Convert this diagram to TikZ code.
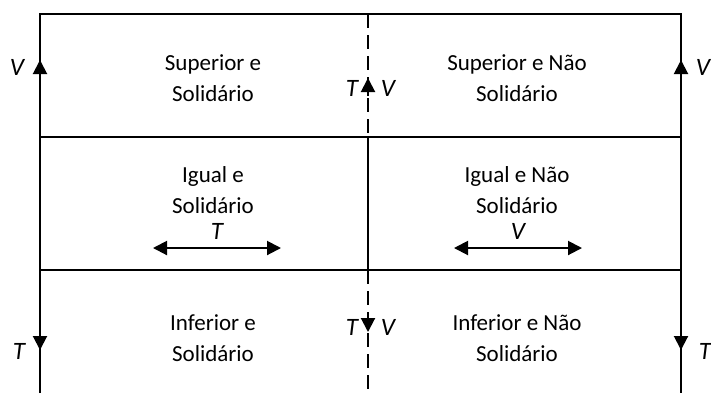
\documentclass[tikz,border=0pt]{standalone}
\usepackage{fontspec}
\setmainfont{Carlito}
\usetikzlibrary{arrows.meta,positioning}

\begin{document}
\begin{tikzpicture}[x=0.5pt, y=-0.5pt, >={Triangle[width=7pt,length=7pt]},
		frame line/.style={line width=1pt},
		mid line/.style={line width=1pt, dash pattern=on 7pt off 3.5pt},
		cell node/.style={align=center, font=\fontsize{11.5}{15.5}\selectfont},
		sign node/.style={font=\fontsize{12.5}{14}\selectfont\itshape, inner sep=0pt}]

	\useasboundingbox (0,0) rectangle (711,393);

	% corners and crossings
	\coordinate (tl) at (40,14);
	\coordinate (tm) at (368,14);
	\coordinate (tr) at (681,14);
	\coordinate (al) at (40,137);
	\coordinate (am) at (368,137);
	\coordinate (ar) at (681,137);
	\coordinate (bl) at (40,270);
	\coordinate (bm) at (368,270);
	\coordinate (br) at (681,270);
	\coordinate (el) at (40,393);
	\coordinate (em) at (368,393);
	\coordinate (er) at (681,393);

	\draw[frame line] (el) -- (tl) -- (tr) -- (er);
	\draw[frame line] (al) -- (ar);
	\draw[frame line] (bl) -- (br);
	\draw[frame line] (am) -- (bm);
	\draw[mid line] (tm) -- (am);
	\draw[mid line] (bm) -- (em);

	% texts
	\node[cell node] (1) at (213,78) {Superior e\\Solidário};
	\node[cell node] (2) at (517,78) {Superior e Não\\Solidário};
	\node[cell node] (3) at (213,190) {Igual e\\Solidário};
	\node[cell node] (4) at (517,190) {Igual e Não\\Solidário};
	\node[cell node] (5) at (213,338) {Inferior e\\Solidário};
	\node[cell node] (6) at (517,338) {Inferior e Não\\Solidário};

	% arrows on the lines
	\coordinate (a1) at (40,78);   \coordinate (a2) at (40,60);
	\coordinate (a3) at (681,78);  \coordinate (a4) at (681,60);
	\coordinate (a5) at (368,96);  \coordinate (a6) at (368,78);
	\coordinate (a7) at (368,314); \coordinate (a8) at (368,332);
	\coordinate (a9) at (40,332);  \coordinate (a10) at (40,350);
	\coordinate (a11) at (681,332);\coordinate (a12) at (681,350);
	\draw[->, line width=1pt] (a1) -- (a2);
	\draw[->, line width=1pt] (a3) -- (a4);
	\draw[->, line width=1pt] (a5) -- (a6);
	\draw[->, line width=1pt] (a7) -- (a8);
	\draw[->, line width=1pt] (a9) -- (a10);
	\draw[->, line width=1pt] (a11) -- (a12);

	\coordinate (h1) at (153,248); \coordinate (h2) at (281,248);
	\coordinate (h3) at (454,248); \coordinate (h4) at (582,248);
	\draw[<->, line width=1pt] (h1) -- node[sign node, above=4pt] (7) {T} (h2);
	\draw[<->, line width=1pt] (h3) -- node[sign node, above=4pt] (8) {V} (h4);

	% signs
	\node[sign node] (9) at (17,67) {V};
	\node[sign node] (10) at (703,67) {V};
	\node[sign node] (11) at (352,88) {T};
	\node[sign node] (12) at (388,88) {V};
	\node[sign node] (13) at (352,327) {T};
	\node[sign node] (14) at (388,327) {V};
	\node[sign node] (15) at (19,351) {T};
	\node[sign node] (16) at (705,351) {T};
\end{tikzpicture}
\end{document}
